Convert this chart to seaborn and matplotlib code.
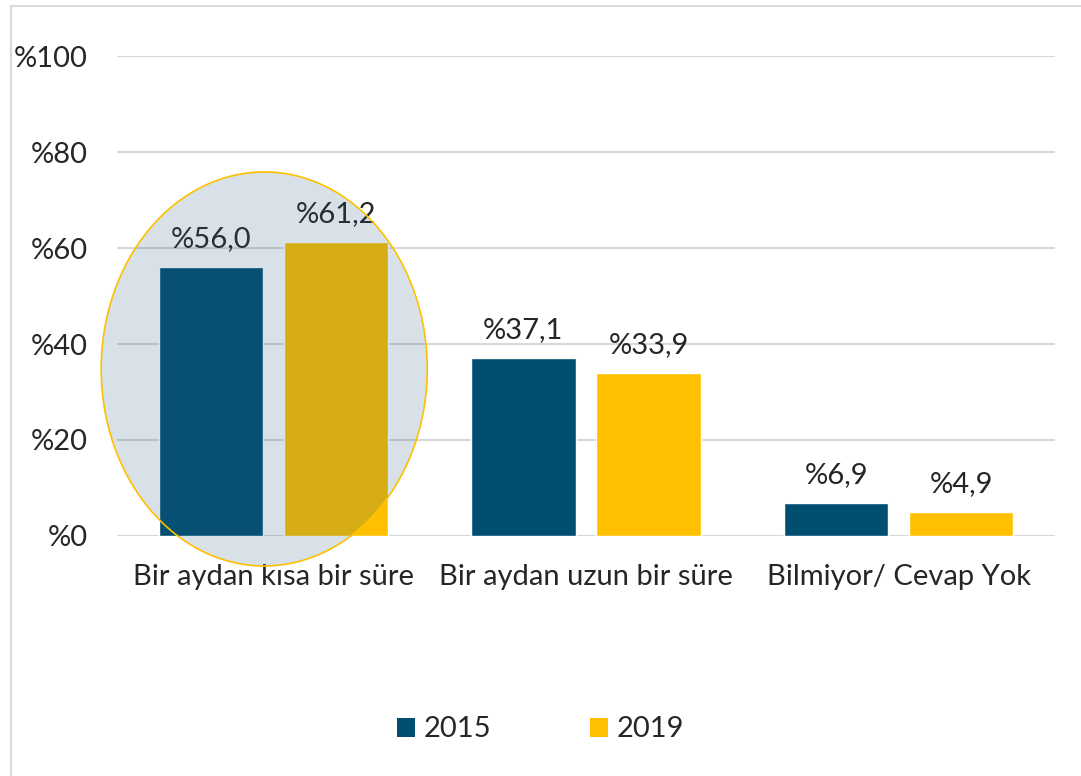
import numpy as np
import pandas as pd
import matplotlib
matplotlib.use("Agg")
import matplotlib.pyplot as plt
from matplotlib.patches import Ellipse, Rectangle, Patch
import seaborn as sns

# ==============================================================================
# DATA
# ==============================================================================

CATEGORIES = ["Bir aydan kısa bir süre", "Bir aydan uzun bir süre", "Bilmiyor/ Cevap Yok"]
YEARS      = ["2015", "2019"]
VALUES_2015 = [56.0, 37.1, 6.9]
VALUES_2019 = [61.2, 33.9, 4.9]
Y_TICKS    = [0, 20, 40, 60, 80, 100]

COLORS = {"2015": "#004F71", "2019": "#FFC000"}

df = pd.DataFrame({
    "Kategori": CATEGORIES * 2,
    "Yil": ["2015"] * 3 + ["2019"] * 3,
    "Deger": VALUES_2015 + VALUES_2019,
})

# ==============================================================================
# PLOT
# ==============================================================================

sns.set_style("white")
plt.rcParams['font.family'] = ['Lato', 'DejaVu Sans']
FS = 21

fig = plt.figure(figsize=(10.81, 7.76), dpi=100)
ax = fig.add_axes([0.1082, 0.3093, 0.8677, 0.6185])

sns.barplot(data=df, x="Kategori", y="Deger", hue="Yil", hue_order=YEARS,
            palette=COLORS, width=0.8, gap=0.167, saturation=1,
            legend=False, ax=ax)

ax.set_ylim(0, 100)
ax.set_xlim(-0.5, 2.5)
ax.set_yticks(Y_TICKS)
ax.set_yticklabels([f"%{t}" for t in Y_TICKS])
ax.grid(axis='y', color='#D9D9D9', linewidth=1.5, zorder=0)
ax.set_axisbelow(True)
for s in ax.spines.values():
    s.set_visible(False)
ax.tick_params(axis='y', length=0, pad=21, labelsize=FS)
ax.tick_params(axis='x', length=0, pad=20, labelsize=FS)
ax.set_xlabel("")
ax.set_ylabel("")

# value labels
for cont in ax.containers:
    ax.bar_label(cont, labels=[f"%{v:.1f}".replace(".", ",") for v in cont.datavalues],
                 padding=11, fontsize=FS)

# highlight ellipse around the first group
ell = Ellipse((-0.029, 34.8), 1.043, 82.1, facecolor='#225B7D', alpha=0.18,
              edgecolor='none', clip_on=False, zorder=5)
ax.add_patch(ell)
ell_edge = Ellipse((-0.029, 34.8), 1.043, 82.1, facecolor='none',
                   edgecolor='#FFC000', linewidth=1.2, clip_on=False, zorder=6)
ax.add_patch(ell_edge)

# legend
handles = [Patch(facecolor=COLORS[y], edgecolor='none') for y in YEARS]
fig.legend(handles, YEARS, loc='center', bbox_to_anchor=(0.5, 0.06), ncol=2,
           frameon=False, fontsize=FS, handlelength=0.62, handleheight=0.62,
           handletextpad=0.3, columnspacing=3.4)

# outer border (left and top visible)
fig.patches.append(Rectangle((11 / 1081, -0.05), 1.2, 0.992 + 0.05,
                             transform=fig.transFigure, fill=False,
                             edgecolor='#D9D9D9', linewidth=1.5))

fig.savefig("out.png", dpi=100)
